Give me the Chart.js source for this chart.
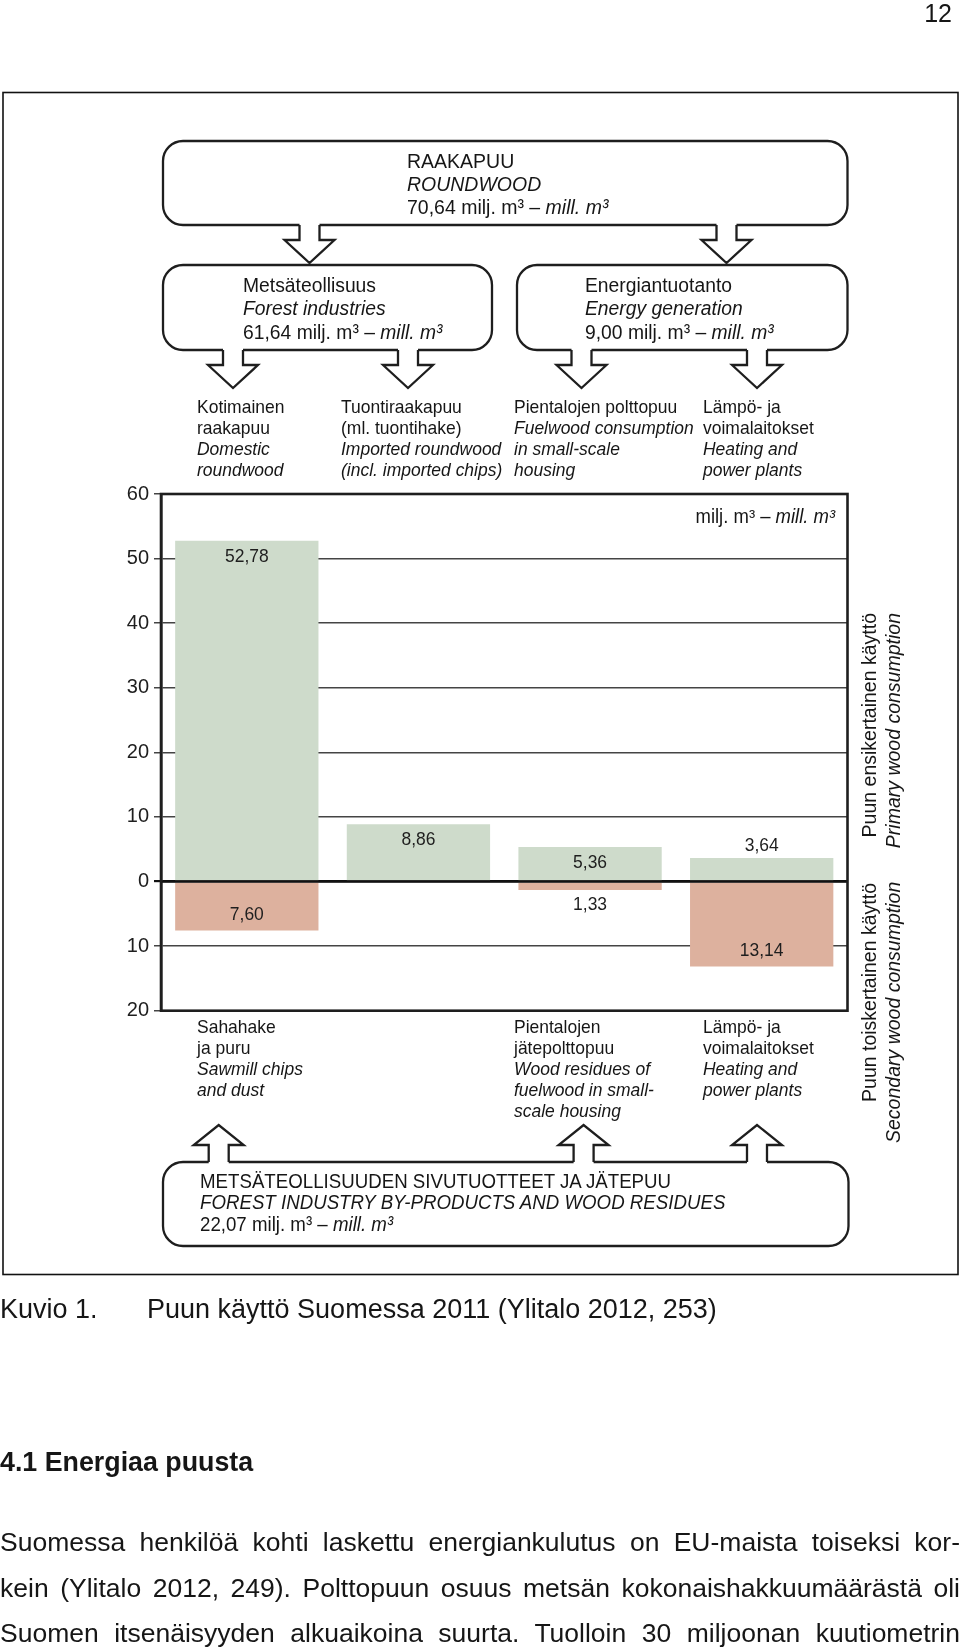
<!DOCTYPE html>
<html lang="fi">
<head>
<meta charset="utf-8">
<title>Puun käyttö Suomessa 2011</title>
<script src="https://cdn.jsdelivr.net/npm/chart.js@4.4.1/dist/chart.umd.min.js"></script>
<style>
  html, body { margin: 0; padding: 0; background: #fff; }
  #page { position: relative; width: 960px; height: 1649px; overflow: hidden;
          font-family: "Liberation Sans", Arial, sans-serif; color: #161616; }
  #chartWrap { position: absolute; left: 0; top: 0; width: 960px; height: 1649px; }
  #shapes { position: absolute; left: 0; top: 0; }
  .t { position: absolute; white-space: nowrap; }
  .t i { font-style: italic; }
  .just { left: 0; width: 960px; text-align: justify; text-align-last: justify; white-space: normal; }
  .rot { position: absolute; transform-origin: 0 0; transform: rotate(-90deg); text-align: right;
         font-size: 19.5px; line-height: 24px; white-space: nowrap; color: #161616; }
</style>
</head>
<body>
<div id="page">
  <svg id="shapes" width="960" height="1649"></svg>
  <div id="chartWrap"><canvas id="woodChart"></canvas></div>
</div>
<script>
// Puun käyttö Suomessa 2011, milj. m3
const categories = ['Kotimainen raakapuu', 'Tuontiraakapuu', 'Pientalojen polttopuu', 'Lämpö- ja voimalaitokset'];
const primaryUse = [52.78, 8.86, 5.36, 3.64];     // ensikertainen käyttö (above zero)
const secondaryUse = [7.60, null, 1.33, 13.14];   // toiskertainen käyttö (drawn below zero)
const yMin = -20, yMax = 60, yStep = 10;

const FONT = '"Liberation Sans", Arial, sans-serif';
const SX = 0.93; // diagram lettering is a bit condensed
const page = document.getElementById('page');

// --- text helpers
function line(x, yc, size, lh, html, extra, sx) {
  const d = document.createElement('div');
  d.className = 't';
  d.style.left = x + 'px';
  d.style.top = (yc - lh / 2) + 'px';
  d.style.lineHeight = lh + 'px';
  if (sx) {
    d.style.fontSize = (size / sx) + 'px';
    d.style.transform = 'scaleX(' + sx + ')';
    d.style.transformOrigin = 'left center';
  } else {
    d.style.fontSize = size + 'px';
  }
  if (extra) Object.assign(d.style, extra);
  d.innerHTML = html;
  page.appendChild(d);
  return d;
}
function block(x, ycs, size, lh, lines) {
  lines.forEach((l, k) => line(x, ycs[k], size, lh, l, null, SX));
}

// page number
line(0, 13, 25, 30, '12', { left: 'auto', right: '8px' });

// boxes
block(407, [160, 183, 206], 19.5, 23, ['RAAKAPUU', '<i>ROUNDWOOD</i>', '70,64 milj. m³ – <i>mill. m³</i>']);
block(243, [284, 307, 331], 19.3, 23, ['Metsäteollisuus', '<i>Forest industries</i>', '61,64 milj. m³ – <i>mill. m³</i>']);
block(585, [284, 307, 331], 19.3, 23, ['Energiantuotanto', '<i>Energy generation</i>', '9,00 milj. m³ – <i>mill. m³</i>']);

// category labels above the chart
const topRows = [406, 427, 448, 469];
block(197, topRows, 17.5, 21, ['Kotimainen', 'raakapuu', '<i>Domestic</i>', '<i>roundwood</i>']);
block(341, topRows, 17.5, 21, ['Tuontiraakapuu', '(ml. tuontihake)', '<i>Imported roundwood</i>', '<i>(incl. imported chips)</i>']);
block(514, topRows, 17.5, 21, ['Pientalojen polttopuu', '<i>Fuelwood consumption</i>', '<i>in small-scale</i>', '<i>housing</i>']);
block(703, topRows, 17.5, 21, ['Lämpö- ja', 'voimalaitokset', '<i>Heating and</i>', '<i>power plants</i>']);

// labels below the chart
const botRows = [1026, 1047, 1068, 1089, 1110];
block(197, botRows, 17.5, 21, ['Sahahake', 'ja puru', '<i>Sawmill chips</i>', '<i>and dust</i>']);
block(514, botRows, 17.5, 21, ['Pientalojen', 'jätepolttopuu', '<i>Wood residues of</i>', '<i>fuelwood in small-</i>', '<i>scale housing</i>']);
block(703, botRows, 17.5, 21, ['Lämpö- ja', 'voimalaitokset', '<i>Heating and</i>', '<i>power plants</i>']);

block(200, [1181, 1202, 1224], 18.7, 22, ['METSÄTEOLLISUUDEN SIVUTUOTTEET JA JÄTEPUU',
  '<i>FOREST INDUSTRY BY-PRODUCTS AND WOOD RESIDUES</i>', '22,07 milj. m³ – <i>mill. m³</i>']);

// unit in the plot corner
line(0, 516, 18.5, 22, 'milj. m³ – <i>mill. m³</i>',
  { left: 'auto', right: (960 - 835) + 'px', transformOrigin: 'right center' }, SX);

// rotated side labels
function rotated(left, top, width, html) {
  const d = document.createElement('div');
  d.className = 'rot';
  d.style.left = left + 'px';
  d.style.top = top + 'px';
  d.style.width = width + 'px';
  d.innerHTML = html;
  page.appendChild(d);
}
rotated(856.5, 873, 260, 'Puun ensikertainen käyttö<br><i>Primary wood consumption</i>');
rotated(856.5, 1143, 260, 'Puun toiskertainen käyttö<br><i>Secondary wood consumption</i>');

// caption + body text
line(0, 1309, 27, 32, 'Kuvio 1.');
line(147, 1309, 27, 32, 'Puun käyttö Suomessa 2011 (Ylitalo 2012, 253)');
line(0, 1462, 26.8, 32, '4.1 Energiaa puusta', { fontWeight: 'bold' });
[['Suomessa henkilöä kohti laskettu energiankulutus on EU-maista toiseksi kor-', 1541.5],
 ['kein (Ylitalo 2012, 249). Polttopuun osuus metsän kokonaishakkuumäärästä oli', 1588],
 ['Suomen itsenäisyyden alkuaikoina suurta. Tuolloin 30 miljoonan kuutiometrin', 1633]
].forEach(([txt, yc]) => {
  const d = line(0, yc, 26.5, 32, txt);
  d.classList.add('just');
});

// --- boxes and block arrows
const svg = document.getElementById('shapes');
const NS = 'http://www.w3.org/2000/svg';
function el(name, attrs) {
  const e = document.createElementNS(NS, name);
  for (const k in attrs) e.setAttribute(k, attrs[k]);
  svg.appendChild(e);
  return e;
}
const STROKE = '#1e1e1e';
el('rect', { x: 3, y: 92.5, width: 955, height: 1182, fill: 'none', stroke: '#111', 'stroke-width': 1.6 });
function box(x, y, w, h) {
  el('rect', { x, y, width: w, height: h, rx: 20, ry: 20, fill: '#fff', stroke: STROKE, 'stroke-width': 2.3 });
}
function arrow(cx, y0, yBase, yTip) {
  const dir = Math.sign(yTip - y0);
  const sw = 10, hw = 25;
  const pts = [[cx - sw, y0], [cx - sw, yBase], [cx - hw, yBase], [cx, yTip], [cx + hw, yBase], [cx + sw, yBase], [cx + sw, y0]];
  const fillPts = pts.map(p => p.slice());
  fillPts[0][1] -= 3 * dir; fillPts[6][1] -= 3 * dir;
  el('polygon', { points: fillPts.map(p => p.join(',')).join(' '), fill: '#fff', stroke: 'none' });
  el('polyline', { points: pts.map(p => p.join(',')).join(' '), fill: 'none', stroke: STROKE, 'stroke-width': 2.3, 'stroke-linejoin': 'miter' });
}
box(163, 141, 684.5, 84);
box(163, 265, 329, 85);
box(517, 265, 330.5, 85);
box(163, 1162, 685.5, 84);
[309.5, 726.5].forEach(cx => arrow(cx, 225, 240, 263));
[233, 408, 581.5, 757].forEach(cx => arrow(cx, 350, 365, 388));
[218.7, 583.6, 757].forEach(cx => arrow(cx, 1162, 1145, 1125));

// --- chart
const fmt = v => v.toFixed(2).replace('.', ',');

const framePlugin = {
  id: 'frameAndLabels',
  afterDatasetsDraw(chart) {
    const { ctx, chartArea: a, scales: { y } } = chart;
    ctx.save();
    // zero line over the bars
    const y0 = y.getPixelForValue(0);
    ctx.strokeStyle = '#111';
    ctx.lineWidth = 2.4;
    ctx.beginPath(); ctx.moveTo(a.left, y0); ctx.lineTo(a.right, y0); ctx.stroke();
    // value labels
    ctx.fillStyle = '#1e1e1e';
    ctx.font = (17.5 / SX) + 'px ' + FONT;
    ctx.textAlign = 'center';
    ctx.textBaseline = 'middle';
    chart.data.datasets.forEach((ds, di) => {
      const meta = chart.getDatasetMeta(di);
      ds.data.forEach((v, i) => {
        if (v == null) return;
        const bar = meta.data[i];
        const h = Math.abs(bar.base - bar.y);
        let ty;
        if (v > 0) ty = h > 30 ? bar.y + 16 : bar.y - 12;
        else ty = h > 30 ? bar.y - 16 : bar.y + 15;
        ctx.save();
        ctx.translate(bar.x, ty);
        ctx.scale(SX, 1);
        ctx.fillText(fmt(Math.abs(v)), 0, 0);
        ctx.restore();
      });
    });
    ctx.restore();
  },
  afterDraw(chart) {
    const { ctx, chartArea: a } = chart;
    ctx.save();
    ctx.strokeStyle = '#1e1e1e';
    ctx.lineWidth = 2.6;
    ctx.strokeRect(a.left, a.top, a.right - a.left, a.bottom - a.top);
    ctx.restore();
  }
};

new Chart(document.getElementById('woodChart'), {
  type: 'bar',
  data: {
    labels: categories,
    datasets: [
      { label: 'Puun ensikertainen käyttö', data: primaryUse, backgroundColor: '#cedbcb' },
      { label: 'Puun toiskertainen käyttö', data: secondaryUse.map(v => v == null ? null : -v), backgroundColor: '#ddb19e' }
    ]
  },
  options: {
    responsive: true,
    maintainAspectRatio: false,
    animation: false,
    layout: { padding: { left: 111, right: 112.5, top: 494, bottom: 638.3 } },
    datasets: { bar: { barPercentage: 1, categoryPercentage: 0.835 } },
    plugins: { legend: { display: false }, tooltip: { enabled: false } },
    scales: {
      x: { stacked: true, display: false },
      y: {
        stacked: true,
        min: yMin,
        max: yMax,
        afterFit: s => { s.width = 50; },
        ticks: {
          stepSize: yStep,
          callback: v => Math.abs(v),
          color: '#1e1e1e',
          padding: 5,
          font: { family: FONT, size: 20 }
        },
        grid: {
          color: c => (c.tick && c.tick.value === 0) ? '#111' : '#444',
          lineWidth: c => (c.tick && c.tick.value === 0) ? 2.2 : 1.5,
          tickLength: 7
        },
        border: { display: true, color: '#1e1e1e', width: 2.6 }
      }
    }
  },
  plugins: [framePlugin]
});
</script>
</body>
</html>
